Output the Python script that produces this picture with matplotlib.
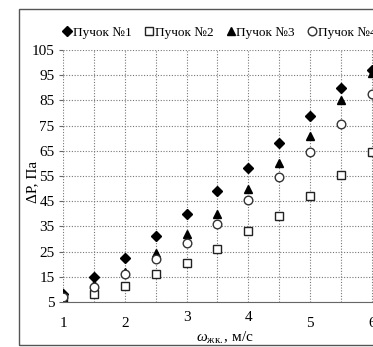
import matplotlib.pyplot as plt
from matplotlib.patches import Rectangle
from matplotlib.transforms import ScaledTranslation

plt.rcParams['font.family'] = ['Liberation Serif', 'DejaVu Serif']
plt.rcParams['mathtext.fontset'] = 'custom'
plt.rcParams['mathtext.rm'] = 'Liberation Serif'
plt.rcParams['mathtext.it'] = 'Liberation Serif:italic'

# speed of liquid, m/s
w = [1.0, 1.5, 2.0, 2.5, 3.0, 3.5, 4.0, 4.5, 5.0, 5.5, 6.0]
# pressure drop, Pa, for each tube bundle
dp1 = [8, 15, 22.5, 31, 40, 49, 58, 68, 79, 90, 97]
dp2 = [6.5, 8, 11.5, 16, 20.5, 26, 33, 39, 47, 55.5, 64.5]
dp3 = [7, 12, 17, 24.5, 32, 40, 50, 60, 71, 85, 96]
dp4 = [7, 11, 16, 22, 28.5, 36, 45.5, 54.5, 64.5, 75.5, 87.5]
labels = ['Пучок №1', 'Пучок №2', 'Пучок №3', 'Пучок №4']

yticks = list(range(5, 106, 10))
xticks = [1, 2, 3, 4, 5, 6]

W, H = 373, 347
fig = plt.figure(figsize=(W / 100, H / 100), dpi=100)
ax = fig.add_axes([63 / W, 1 - 302 / H, 315 / W, 252 / H])

ax.plot(w, dp1, ls='none', marker='D', ms=4.8, mfc='black', mec='black', label=labels[0])
ax.plot(w, dp2, ls='none', marker='s', ms=6.2, mfc='white', mec='#222', mew=1.0, label=labels[1])
ax.plot(w, dp3, ls='none', marker='^', ms=6.2, mfc='black', mec='black', label=labels[2])
ax.plot(w, dp4, ls='none', marker='o', ms=6.2, mfc='white', mec='#333', mew=1.0, label=labels[3])

ax.set_xlim(1, 6.1)
ax.set_ylim(5, 105)
ax.set_xticks(xticks)
ax.set_xticks([1.5, 2.5, 3.5, 4.5, 5.5], minor=True)
ax.set_yticks(yticks)
ax.grid(True, which='both', ls=(0, (1, 1.5)), color='#777', lw=0.8)
for s in ['top', 'right', 'left']:
    ax.spines[s].set_visible(False)
ax.spines['bottom'].set_color('#666')
ax.tick_params(axis='x', which='both', length=0, pad=11, labelsize=11)
ax.tick_params(axis='y', length=3, color='#666', pad=3, labelsize=11)

# Excel pushed the "3" and "4" labels up to make room for the axis title
lift = ScaledTranslation(0, 6 / 100, fig.dpi_scale_trans)
for lab in ax.get_xticklabels():
    if lab.get_text() in ('3', '4'):
        lab.set_transform(lab.get_transform() + lift)

fig.text(33 / W, 1 - 182 / H, 'ΔP, Па', rotation=90, ha='center', va='center', fontsize=11)
fig.text(225 / W, 1 - 338 / H, r'$\omega_{\mathrm{жк.}}$, м/с', ha='center', va='center', fontsize=11)

fig.legend(loc='center left', bbox_to_anchor=(63 / W, 1 - 33 / H), ncol=4, frameon=False,
           handlelength=0.6, handletextpad=0.15, columnspacing=1.0, fontsize=9.5,
           borderaxespad=0, borderpad=0)

fig.patches.append(Rectangle((19 / W, 1 - 345 / H), 1.0, 336 / H, transform=fig.transFigure,
                             fill=False, ec='#555', lw=1.0))

fig.savefig('out.png', dpi=100)
